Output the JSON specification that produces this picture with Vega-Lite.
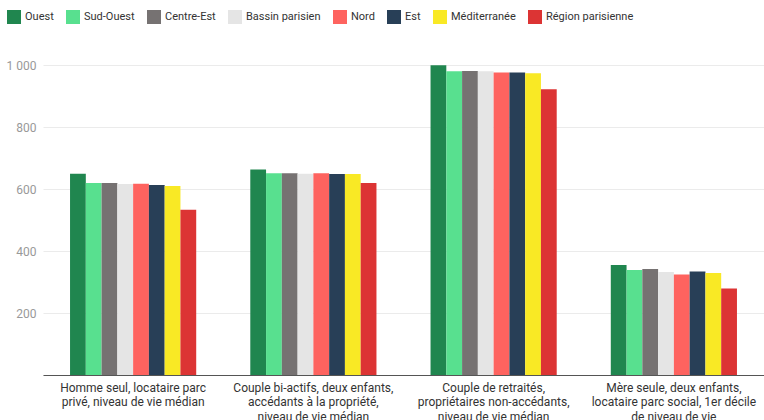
{
  "$schema": "https://vega.github.io/schema/vega-lite/v6.json",
  "autosize": {"type": "none"},
  "padding": {"left": 43, "top": 65, "right": 0, "bottom": 45},
  "width": 721,
  "height": 310,
  "background": "white",
  "config": {
    "font": "Roboto",
    "view": {"stroke": null}
  },
  "data": {
    "values": [
      {"menage": "Homme seul, locataire parc|privé, niveau de vie médian", "region": "Ouest", "montant": 649},
      {"menage": "Homme seul, locataire parc|privé, niveau de vie médian", "region": "Sud-Ouest", "montant": 619},
      {"menage": "Homme seul, locataire parc|privé, niveau de vie médian", "region": "Centre-Est", "montant": 619},
      {"menage": "Homme seul, locataire parc|privé, niveau de vie médian", "region": "Bassin parisien", "montant": 616},
      {"menage": "Homme seul, locataire parc|privé, niveau de vie médian", "region": "Nord", "montant": 617},
      {"menage": "Homme seul, locataire parc|privé, niveau de vie médian", "region": "Est", "montant": 613},
      {"menage": "Homme seul, locataire parc|privé, niveau de vie médian", "region": "Méditerranée", "montant": 610},
      {"menage": "Homme seul, locataire parc|privé, niveau de vie médian", "region": "Région parisienne", "montant": 533},
      {"menage": "Couple bi-actifs, deux enfants,|accédants à la propriété,|niveau de vie médian", "region": "Ouest", "montant": 663},
      {"menage": "Couple bi-actifs, deux enfants,|accédants à la propriété,|niveau de vie médian", "region": "Sud-Ouest", "montant": 651},
      {"menage": "Couple bi-actifs, deux enfants,|accédants à la propriété,|niveau de vie médian", "region": "Centre-Est", "montant": 651},
      {"menage": "Couple bi-actifs, deux enfants,|accédants à la propriété,|niveau de vie médian", "region": "Bassin parisien", "montant": 649},
      {"menage": "Couple bi-actifs, deux enfants,|accédants à la propriété,|niveau de vie médian", "region": "Nord", "montant": 651},
      {"menage": "Couple bi-actifs, deux enfants,|accédants à la propriété,|niveau de vie médian", "region": "Est", "montant": 648},
      {"menage": "Couple bi-actifs, deux enfants,|accédants à la propriété,|niveau de vie médian", "region": "Méditerranée", "montant": 648},
      {"menage": "Couple bi-actifs, deux enfants,|accédants à la propriété,|niveau de vie médian", "region": "Région parisienne", "montant": 619},
      {"menage": "Couple de retraités,|propriétaires non-accédants,|niveau de vie médian", "region": "Ouest", "montant": 999},
      {"menage": "Couple de retraités,|propriétaires non-accédants,|niveau de vie médian", "region": "Sud-Ouest", "montant": 980},
      {"menage": "Couple de retraités,|propriétaires non-accédants,|niveau de vie médian", "region": "Centre-Est", "montant": 981},
      {"menage": "Couple de retraités,|propriétaires non-accédants,|niveau de vie médian", "region": "Bassin parisien", "montant": 980},
      {"menage": "Couple de retraités,|propriétaires non-accédants,|niveau de vie médian", "region": "Nord", "montant": 976},
      {"menage": "Couple de retraités,|propriétaires non-accédants,|niveau de vie médian", "region": "Est", "montant": 976},
      {"menage": "Couple de retraités,|propriétaires non-accédants,|niveau de vie médian", "region": "Méditerranée", "montant": 973},
      {"menage": "Couple de retraités,|propriétaires non-accédants,|niveau de vie médian", "region": "Région parisienne", "montant": 922},
      {"menage": "Mère seule, deux enfants,|locataire parc social, 1er décile|de niveau de vie", "region": "Ouest", "montant": 355},
      {"menage": "Mère seule, deux enfants,|locataire parc social, 1er décile|de niveau de vie", "region": "Sud-Ouest", "montant": 339},
      {"menage": "Mère seule, deux enfants,|locataire parc social, 1er décile|de niveau de vie", "region": "Centre-Est", "montant": 342},
      {"menage": "Mère seule, deux enfants,|locataire parc social, 1er décile|de niveau de vie", "region": "Bassin parisien", "montant": 332},
      {"menage": "Mère seule, deux enfants,|locataire parc social, 1er décile|de niveau de vie", "region": "Nord", "montant": 324},
      {"menage": "Mère seule, deux enfants,|locataire parc social, 1er décile|de niveau de vie", "region": "Est", "montant": 334},
      {"menage": "Mère seule, deux enfants,|locataire parc social, 1er décile|de niveau de vie", "region": "Méditerranée", "montant": 329},
      {"menage": "Mère seule, deux enfants,|locataire parc social, 1er décile|de niveau de vie", "region": "Région parisienne", "montant": 279}
    ]
  },
  "mark": {"type": "bar"},
  "encoding": {
    "x": {
      "field": "menage",
      "type": "nominal",
      "sort": null,
      "scale": {"paddingInner": 0.3, "paddingOuter": 0.15},
      "axis": {
        "title": null,
        "labelAngle": 0,
        "labelExpr": "split(datum.label, '|')",
        "labelFontSize": 12,
        "labelColor": "#333333",
        "labelLineHeight": 14.5,
        "labelPadding": 7,
        "labelBaseline": "top",
        "labelLimit": 0,
        "ticks": false,
        "domainColor": "#555555",
        "domainWidth": 1
      }
    },
    "xOffset": {
      "field": "region",
      "type": "nominal",
      "sort": ["Ouest", "Sud-Ouest", "Centre-Est", "Bassin parisien", "Nord", "Est", "Méditerranée", "Région parisienne"],
      "scale": {"paddingInner": 0, "paddingOuter": 0}
    },
    "y": {
      "field": "montant",
      "type": "quantitative",
      "scale": {"domain": [0, 1000], "nice": false},
      "axis": {
        "title": null,
        "values": [0, 200, 400, 600, 800, 1000],
        "labelExpr": "datum.value == 0 ? '' : replace(format(datum.value, ','), ',', ' ')",
        "labelFontSize": 12,
        "labelColor": "#999999",
        "labelPadding": 7,
        "ticks": false,
        "domain": false,
        "gridColor": "#ebebeb",
        "gridWidth": 1
      }
    },
    "color": {
      "field": "region",
      "type": "nominal",
      "sort": ["Ouest", "Sud-Ouest", "Centre-Est", "Bassin parisien", "Nord", "Est", "Méditerranée", "Région parisienne"],
      "scale": {
        "domain": ["Ouest", "Sud-Ouest", "Centre-Est", "Bassin parisien", "Nord", "Est", "Méditerranée", "Région parisienne"],
        "range": ["#20864f", "#58e08f", "#767272", "#e5e5e5", "#fe635f", "#283f57", "#f9e925", "#dc3434"]
      },
      "legend": {
        "title": null,
        "orient": "none",
        "direction": "horizontal",
        "legendX": -36,
        "legendY": -55,
        "padding": 0,
        "symbolType": "square",
        "symbolSize": 196,
        "symbolStrokeWidth": 0,
        "symbolOpacity": 1,
        "labelFontSize": 11,
        "labelColor": "#333333",
        "labelOffset": 4,
        "columnPadding": 12
      }
    }
  }
}
